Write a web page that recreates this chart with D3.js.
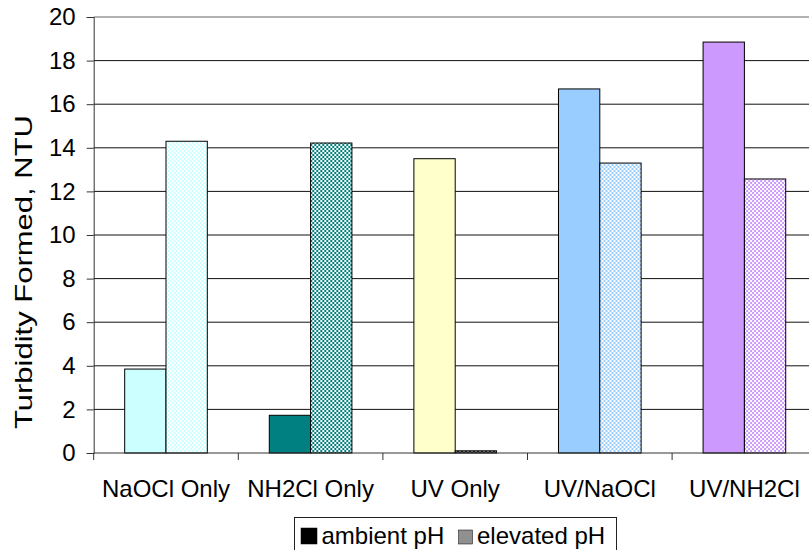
<!DOCTYPE html>
<html>
<head>
<meta charset="utf-8">
<script src="https://cdn.jsdelivr.net/npm/d3@7"></script>
<style>
  html, body { margin: 0; padding: 0; background: #fff; }
  svg { display: block; font-family: Arial, "Liberation Sans", sans-serif; }
</style>
</head>
<body>
<svg id="chart" width="809" height="550"></svg>
<script>
// Turbidity formed per treatment, two pH conditions
const categories = ["NaOCl Only", "NH2Cl Only", "UV Only", "UV/NaOCl", "UV/NH2Cl"];
const seriesNames = ["ambient pH", "elevated pH"];
const ambientPH = [3.85, 1.73, 13.5, 16.7, 18.85];
const elevatedPH = [14.3, 14.22, 0.1, 13.3, 12.57];
const yTicks = [0, 2, 4, 6, 8, 10, 12, 14, 16, 18, 20];
const yTitle = "Turbidity Formed, NTU";

// Fill colours per treatment (solid for ambient, checkered for elevated)
const ambientFill = ["#ccffff", "#008080", "#ffffcc", "#99ccff", "#cc99ff"];
const elevatedFore = ["#ccffff", "#008080", "#222222", "#99ccff", "#cc99ff"];
const elevatedBack = ["#ffffff", "#ffffff", "#999999", "#ffffff", "#ffffff"];

const svg = d3.select("#chart");
const plotL = 93.7, plotR = 816.7, plotT = 17, plotB = 453;
const fontSize = 24;

const x = d3.scaleBand().domain(categories).range([plotL, plotR]).paddingInner(0).paddingOuter(0);
const xInner = d3.scaleBand().domain(seriesNames).range([0, x.bandwidth()]).paddingInner(0).paddingOuter(0.75);
const y = d3.scaleLinear().domain([0, 20]).range([plotB, plotT]);

// checkered patterns
const defs = svg.append("defs");
categories.forEach((c, i) => {
  const p = defs.append("pattern")
    .attr("id", "chk" + i)
    .attr("patternUnits", "userSpaceOnUse")
    .attr("width", 4).attr("height", 4);
  p.append("rect").attr("width", 4).attr("height", 4).attr("fill", elevatedBack[i]);
  p.append("rect").attr("x", 0).attr("y", 0).attr("width", 2).attr("height", 2).attr("fill", elevatedFore[i]);
  p.append("rect").attr("x", 2).attr("y", 2).attr("width", 2).attr("height", 2).attr("fill", elevatedFore[i]);
});
const lp = defs.append("pattern").attr("id", "legChk")
  .attr("patternUnits", "userSpaceOnUse").attr("width", 2).attr("height", 2);
lp.append("rect").attr("width", 2).attr("height", 2).attr("fill", "#ffffff");
lp.append("rect").attr("width", 1).attr("height", 1).attr("fill", "#222");
lp.append("rect").attr("x", 1).attr("y", 1).attr("width", 1).attr("height", 1).attr("fill", "#222");

// gridlines
svg.append("g")
  .selectAll("line")
  .data(yTicks.filter(d => d > 0))
  .join("line")
  .attr("x1", plotL).attr("x2", plotR)
  .attr("y1", d => y(d)).attr("y2", d => y(d))
  .attr("stroke", d => d === 20 ? "#666" : "#111").attr("stroke-width", 1);

// bars
const groups = svg.append("g")
  .selectAll("g")
  .data(categories)
  .join("g")
  .attr("transform", d => `translate(${x(d)},0)`);

groups.append("rect")
  .attr("x", xInner("ambient pH"))
  .attr("width", xInner.bandwidth())
  .attr("y", (d, i) => y(ambientPH[i]))
  .attr("height", (d, i) => y(0) - y(ambientPH[i]))
  .attr("fill", (d, i) => ambientFill[i])
  .attr("stroke", "#000").attr("stroke-width", 1);

groups.append("rect")
  .attr("x", xInner("elevated pH"))
  .attr("width", xInner.bandwidth())
  .attr("y", (d, i) => y(elevatedPH[i]))
  .attr("height", (d, i) => y(0) - y(elevatedPH[i]))
  .attr("fill", (d, i) => `url(#chk${i})`)
  .attr("stroke", "#000").attr("stroke-width", 1);

// y axis
const yAxis = svg.append("g")
  .attr("transform", `translate(${plotL},0)`)
  .call(d3.axisLeft(y).tickValues(yTicks).tickSize(7).tickPadding(11).tickFormat(d3.format("d")));
yAxis.select(".domain").attr("stroke", "#333");
yAxis.selectAll(".tick line").attr("stroke", "#333");
yAxis.selectAll("text").attr("font-size", fontSize).attr("fill", "#000")
  .attr("font-family", "Arial, 'Liberation Sans', sans-serif");

// x axis: ticks sit on category boundaries
const xAxisG = svg.append("g").attr("transform", `translate(0,${plotB})`);
xAxisG.append("line").attr("x1", plotL).attr("x2", plotR).attr("y1", 0).attr("y2", 0)
  .attr("stroke", "#333");
const boundaries = categories.map(c => x(c)).concat([x(categories[categories.length - 1]) + x.bandwidth()]);
xAxisG.selectAll("line.tk")
  .data(boundaries)
  .join("line")
  .attr("class", "tk")
  .attr("x1", d => d).attr("x2", d => d)
  .attr("y1", 0).attr("y2", 7)
  .attr("stroke", "#333");
xAxisG.selectAll("text")
  .data(categories)
  .join("text")
  .attr("x", d => x(d) + x.bandwidth() / 2)
  .attr("y", 44)
  .attr("text-anchor", "middle")
  .attr("font-size", fontSize)
  .attr("fill", "#000")
  .text(d => d);

// y axis title (rendered wide, as in the original export)
svg.append("text")
  .attr("transform", "translate(32,272) rotate(-90)")
  .attr("text-anchor", "middle")
  .attr("font-size", fontSize)
  .attr("textLength", 314)
  .attr("lengthAdjust", "spacingAndGlyphs")
  .attr("fill", "#000")
  .text(yTitle);

// legend
const legend = svg.append("g").attr("transform", "translate(294.5,517.5)");
legend.append("rect").attr("width", 322).attr("height", 45)
  .attr("fill", "#fff").attr("stroke", "#222").attr("stroke-width", 1);
const items = [
  { name: seriesNames[0], fill: "#000", x: 6.5, size: 16 },
  { name: seriesNames[1], fill: "url(#legChk)", x: 164, size: 14 }
];
items.forEach(it => {
  legend.append("rect").attr("x", it.x).attr("y", 26.5 - it.size)
    .attr("width", it.size).attr("height", it.size)
    .attr("fill", it.fill).attr("stroke", "#000").attr("stroke-width", 0.5);
  legend.append("text").attr("x", it.x + it.size + 4.5).attr("y", 26)
    .attr("font-size", fontSize).attr("fill", "#000").text(it.name);
});
</script>
</body>
</html>
